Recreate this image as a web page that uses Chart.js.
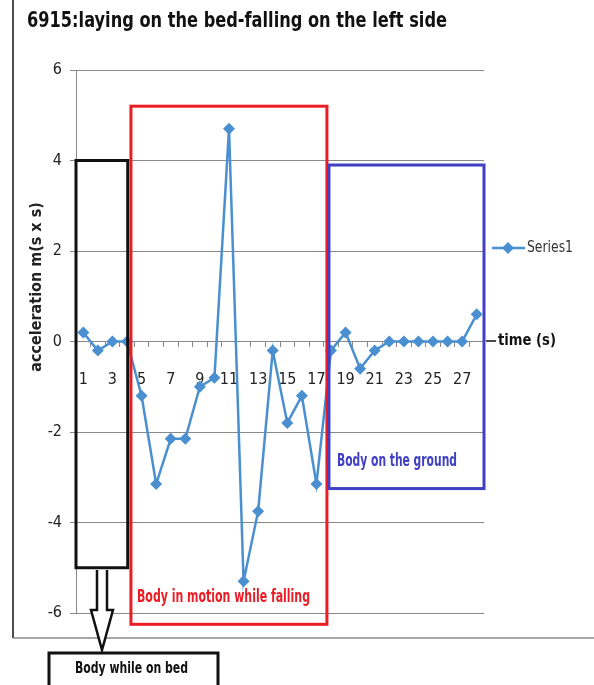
<!DOCTYPE html>
<html lang="en">
<head>
  <meta charset="UTF-8" />
  <title>6915 fall chart</title>
  <script src="https://cdn.jsdelivr.net/npm/chart.js@4.4.0/dist/chart.umd.min.js"></script>
  <style>
    html, body { margin: 0; padding: 0; background: #fff; }
    #wrap { width: 594px; height: 685px; }
  </style>
</head>
<body>
  <div id="wrap"><canvas id="fallChart" width="594" height="685"></canvas></div>

  <script>
    // time axis (seconds) and measured acceleration
    const timeLabels = ['1','2','3','4','5','6','7','8','9','10','11','12','13','14',
                        '15','16','17','18','19','20','21','22','23','24','25','26','27','28'];
    const accel = [0.2, -0.2, 0, 0, -1.2, -3.15, -2.15, -2.15, -1.0, -0.8, 4.7, -5.3, -3.75, -0.2,
                   -1.8, -1.2, -3.15, -0.2, 0.2, -0.6, -0.2, 0, 0, 0, 0, 0, 0, 0.6];
    const yTicks = [-6, -4, -2, 0, 2, 4, 6];

    const NARROW = "'Liberation Sans Narrow', 'DejaVu Sans Condensed', sans-serif";
    const LINE = '#4a8fd0';

    function text(ctx, str, x, y, font, color, width, align) {
      ctx.save();
      ctx.font = font + ' ' + NARROW;
      ctx.fillStyle = color;
      ctx.textBaseline = 'middle';
      ctx.textAlign = align || 'left';
      ctx.fillText(str, x, y, width);
      ctx.restore();
    }

    function box(ctx, x1, y1, x2, y2, color, lw) {
      ctx.save();
      ctx.strokeStyle = color;
      ctx.lineWidth = lw;
      ctx.strokeRect(x1, y1, x2 - x1, y2 - y1);
      ctx.restore();
    }

    // frame, title, boxes and labels drawn on top of the chart
    const overlay = {
      id: 'overlay',
      beforeDraw(chart) {
        const ctx = chart.ctx;
        ctx.save();
        ctx.fillStyle = '#fff';
        ctx.fillRect(0, 0, chart.width, chart.height);
        ctx.strokeStyle = '#111';
        ctx.lineWidth = 1.5;
        ctx.beginPath();
        ctx.moveTo(13, 0); ctx.lineTo(13, 638);
        ctx.stroke();
        ctx.strokeStyle = '#888';
        ctx.beginPath();
        ctx.moveTo(13, 638); ctx.lineTo(594, 638);
        ctx.stroke();
        ctx.restore();
      },
      afterDraw(chart) {
        const ctx = chart.ctx;
        const xs = chart.scales.x, ys = chart.scales.y, area = chart.chartArea;

        text(ctx, '6915:laying on the bed-falling on the left side', 27, 22, 'bold 21px', '#111', 420);

        // y axis title
        ctx.save();
        ctx.translate(37, 287);
        ctx.rotate(-Math.PI / 2);
        text(ctx, 'acceleration m(s x s)', 0, 0, 'bold 16px', '#222', 205, 'center');
        ctx.restore();

        // phase boxes
        box(ctx, area.left, ys.getPixelForValue(4), xs.getPixelForValue(3.05), ys.getPixelForValue(-5), '#111', 3);
        box(ctx, xs.getPixelForValue(3.27), ys.getPixelForValue(5.2), xs.getPixelForValue(16.72), ys.getPixelForValue(-6.25), '#ec1c24', 3);
        box(ctx, xs.getPixelForValue(16.86), ys.getPixelForValue(3.9), area.right, ys.getPixelForValue(-3.25), '#4040c4', 3);

        text(ctx, 'Body in motion while falling', 137, 598, 'bold 17px', '#ec1c24', 173);
        text(ctx, 'Body on the ground', 337, 462, 'bold 17px', '#4040c4', 120);

        // arrow from bed box down to its label
        ctx.save();
        ctx.strokeStyle = '#111';
        ctx.fillStyle = '#fff';
        ctx.lineWidth = 2.5;
        ctx.lineJoin = 'miter';
        ctx.beginPath();
        ctx.moveTo(97, 570); ctx.lineTo(97, 610); ctx.lineTo(91, 610);
        ctx.lineTo(102, 650); ctx.lineTo(113, 610); ctx.lineTo(107, 610);
        ctx.lineTo(107, 570);
        ctx.fill();
        ctx.stroke();
        ctx.restore();

        box(ctx, 49, 653, 218, 692, '#111', 3);
        text(ctx, 'Body while on bed', 75, 669, 'bold 16px', '#111', 113);

        // time axis label
        ctx.save();
        ctx.strokeStyle = '#111';
        ctx.lineWidth = 1.5;
        ctx.beginPath();
        ctx.moveTo(486, 341); ctx.lineTo(496, 341);
        ctx.stroke();
        ctx.restore();
        text(ctx, 'time (s)', 498, 341, 'bold 16px', '#111', 58);

        // legend
        ctx.save();
        ctx.strokeStyle = LINE;
        ctx.fillStyle = LINE;
        ctx.lineWidth = 2.5;
        ctx.beginPath();
        ctx.moveTo(492, 248); ctx.lineTo(525, 248);
        ctx.stroke();
        ctx.beginPath();
        ctx.moveTo(508, 242); ctx.lineTo(514, 248); ctx.lineTo(508, 254); ctx.lineTo(502, 248);
        ctx.closePath();
        ctx.fill();
        ctx.restore();
        text(ctx, 'Series1', 527, 248, '16px', '#333', 46);
      }
    };

    const ctx = document.getElementById('fallChart').getContext('2d');
    new Chart(ctx, {
      type: 'line',
      data: {
        labels: timeLabels,
        datasets: [{
          label: 'Series1',
          data: accel,
          borderColor: LINE,
          backgroundColor: LINE,
          borderWidth: 2.5,
          pointStyle: 'rectRot',
          pointRadius: 6,
          pointBorderWidth: 0,
          pointBackgroundColor: LINE,
          tension: 0
        }]
      },
      options: {
        responsive: false,
        animation: false,
        layout: { padding: { left: 36, top: 70, right: 110, bottom: 72 } },
        plugins: {
          legend: { display: false },
          title: { display: false },
          tooltip: { enabled: false }
        },
        scales: {
          x: {
            position: { y: 0 },
            offset: true,
            border: { color: '#888', width: 1 },
            grid: { offset: true, drawOnChartArea: false, tickLength: 5, color: '#888' },
            ticks: {
              autoSkip: false,
              maxRotation: 0,
              padding: 24,
              color: '#222',
              font: { family: NARROW, size: 16 },
              callback: (v, i) => (i % 2 === 0 ? timeLabels[i] : '')
            }
          },
          y: {
            min: -6,
            max: 6,
            afterFit: s => { s.width = 40; },
            afterBuildTicks: s => { s.ticks = yTicks.map(v => ({ value: v })); },
            border: { color: '#888', width: 1 },
            grid: { color: '#888', tickLength: 6 },
            ticks: {
              padding: 8,
              color: '#222',
              font: { family: NARROW, size: 16 }
            }
          }
        }
      },
      plugins: [overlay]
    });
  </script>
</body>
</html>
